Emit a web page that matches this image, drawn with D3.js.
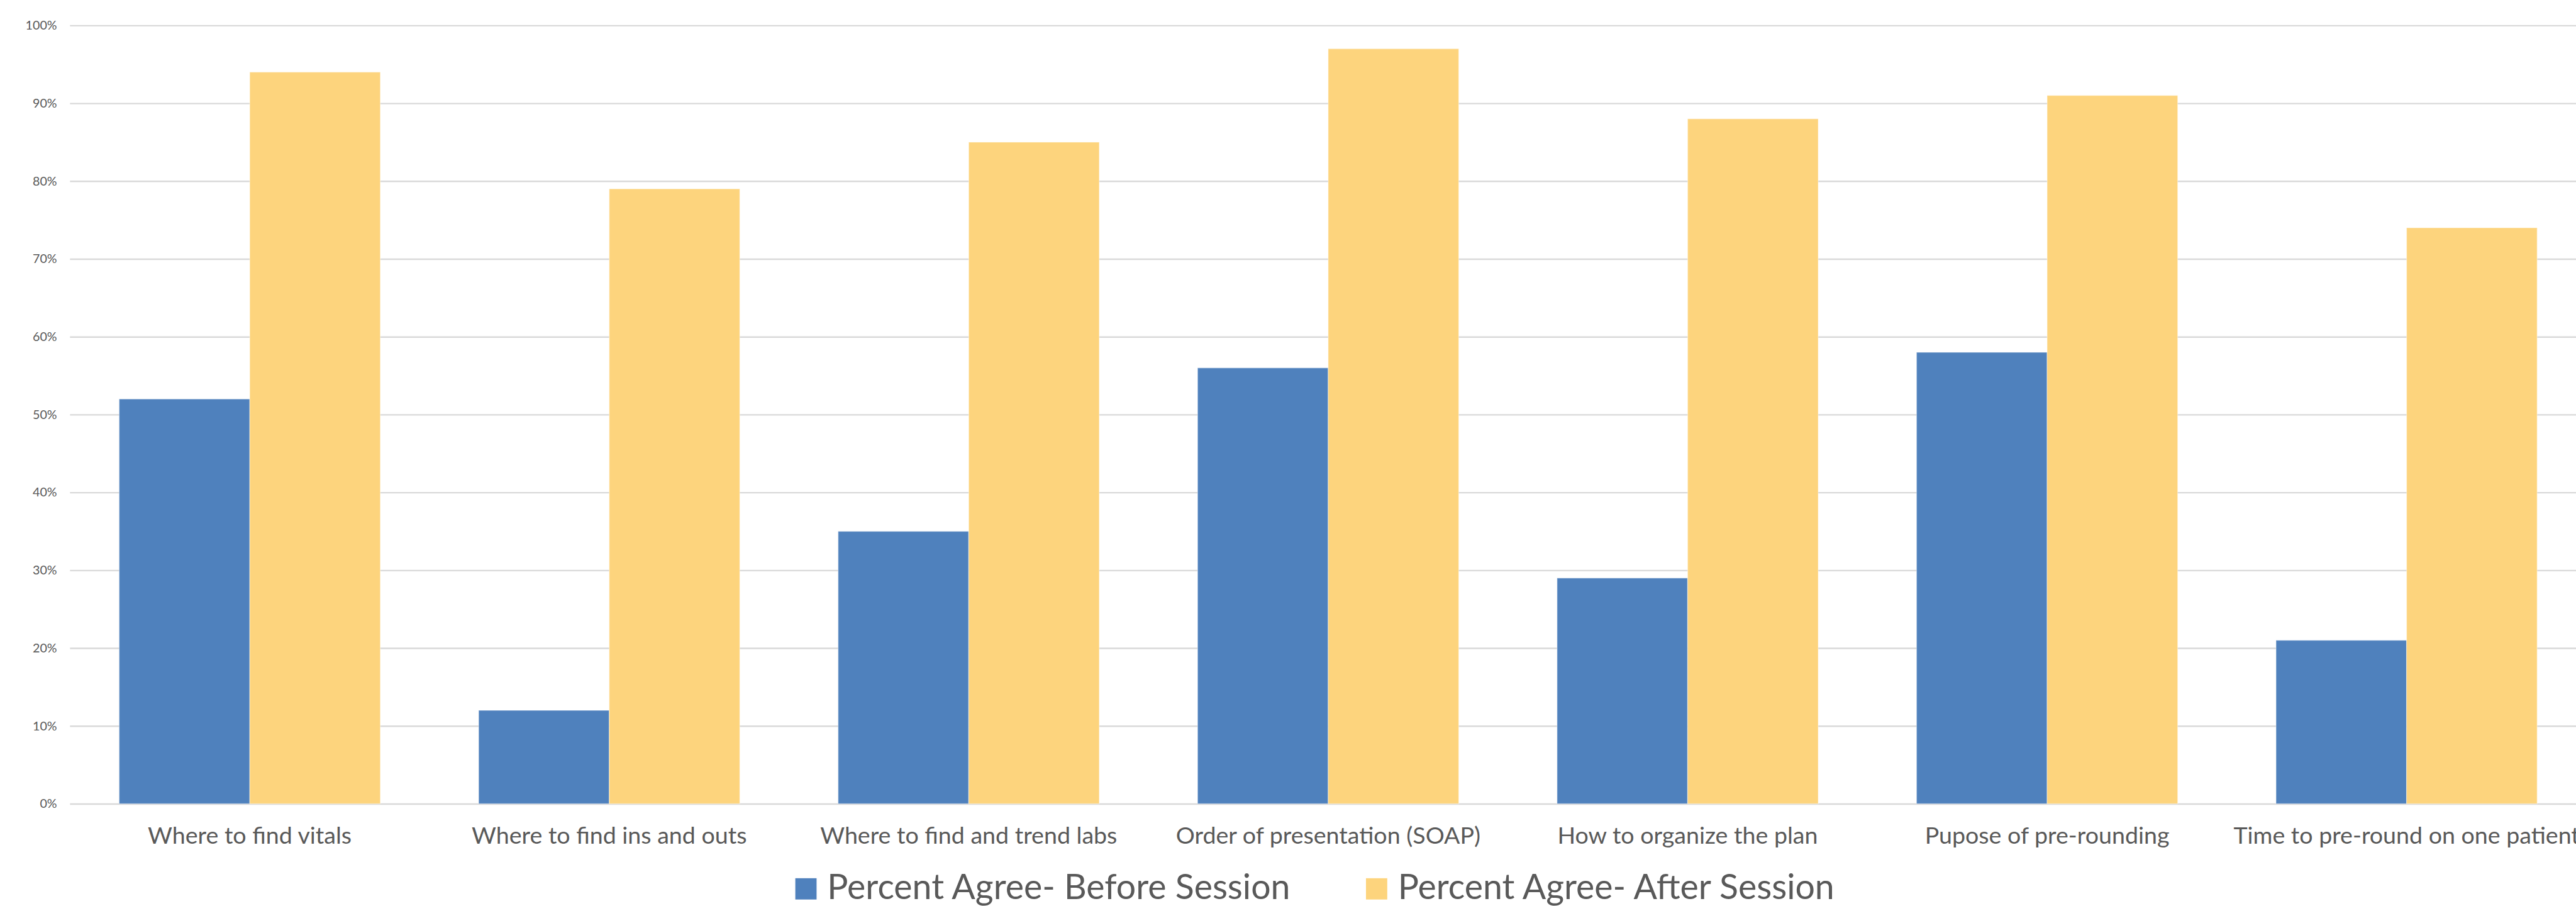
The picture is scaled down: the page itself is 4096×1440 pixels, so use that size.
<!DOCTYPE html>
<html>
<head>
<meta charset="utf-8">
<script src="https://cdn.jsdelivr.net/npm/d3@7"></script>
<style>
  html, body { margin: 0; padding: 0; background: #fff; overflow: hidden; }
  svg { display: block; }
  text { font-family: Lato, "Open Sans", sans-serif; fill: #595959; }
</style>
</head>
<body>
<script>
const categories = [
  "Where to find vitals",
  "Where to find ins and outs",
  "Where to find and trend labs",
  "Order of presentation (SOAP)",
  "How to organize the plan",
  "Pupose of pre-rounding",
  "Time to pre-round on one patient"
];
const seriesNames = ["Percent Agree- Before Session", "Percent Agree- After Session"];
const beforeValues = [0.52, 0.12, 0.35, 0.56, 0.29, 0.58, 0.21];
const afterValues  = [0.94, 0.79, 0.85, 0.97, 0.88, 0.91, 0.74];
const yTicks = [0, 0.1, 0.2, 0.3, 0.4, 0.5, 0.6, 0.7, 0.8, 0.9, 1.0];
const colors = ["#4F81BD", "#FDD47D"];

const W = 4360, H = 1533;
const svg = d3.select("body").append("svg")
  .attr("width", 4096).attr("height", 1440)
  .attr("viewBox", `0 0 ${W} ${H}`);

const plotLeft = 118.25, plotRight = 118.25 + 7 * 608.5;
const y = d3.scaleLinear().domain([0, 1]).range([1360, 43]);
const x0 = d3.scaleBand().domain(categories).range([plotLeft, plotRight])
  .paddingInner(0.2736).paddingOuter(0.1368);
const x1 = d3.scaleBand().domain([0, 1]).range([0, x0.bandwidth()]);

// gridlines
const yAxis = d3.axisLeft(y).tickValues(yTicks).tickFormat(d3.format(".0%"))
  .tickSize(-(plotRight - plotLeft)).tickPadding(22);
const gy = svg.append("g").attr("transform", `translate(${plotLeft},0)`).call(yAxis);
gy.select(".domain").remove();
gy.selectAll(".tick line").attr("stroke", "#D9D9D9").attr("stroke-width", 2.5);
gy.selectAll(".tick text").attr("font-size", 21).attr("fill", "#595959")
  .style("font-family", "Lato, sans-serif");

// bars
const data = categories.map((c, i) => ({ c, v: [beforeValues[i], afterValues[i]] }));
const groups = svg.append("g").selectAll("g").data(data).join("g")
  .attr("transform", d => `translate(${x0(d.c)},0)`);
groups.selectAll("rect").data(d => d.v.map((v, k) => ({ v, k }))).join("rect")
  .attr("x", d => x1(d.k))
  .attr("width", x1.bandwidth())
  .attr("y", d => y(d.v))
  .attr("height", d => y(0) - y(d.v))
  .attr("fill", d => colors[d.k])
  .attr("stroke", "#ffffff").attr("stroke-opacity", 0.35).attr("stroke-width", 1.5);

// x labels
const xAxis = d3.axisBottom(x0).tickSize(0).tickPadding(0);
const gx = svg.append("g").attr("transform", `translate(0,${y(0)})`).call(xAxis);
gx.select(".domain").remove();
gx.selectAll(".tick text").attr("font-size", 40).attr("fill", "#595959")
  .attr("dy", null).attr("y", 68)
  .style("font-family", "Lato, sans-serif");

// legend
const legendX = [1346, 2312];
const lg = svg.append("g").selectAll("g").data(seriesNames).join("g")
  .attr("transform", (d, i) => `translate(${legendX[i]},1486)`);
lg.append("rect").attr("width", 36).attr("height", 36).attr("fill", (d, i) => colors[i]);
lg.append("text").attr("x", 54).attr("y", 35).attr("font-size", 59).text(d => d);
</script>
</body>
</html>
